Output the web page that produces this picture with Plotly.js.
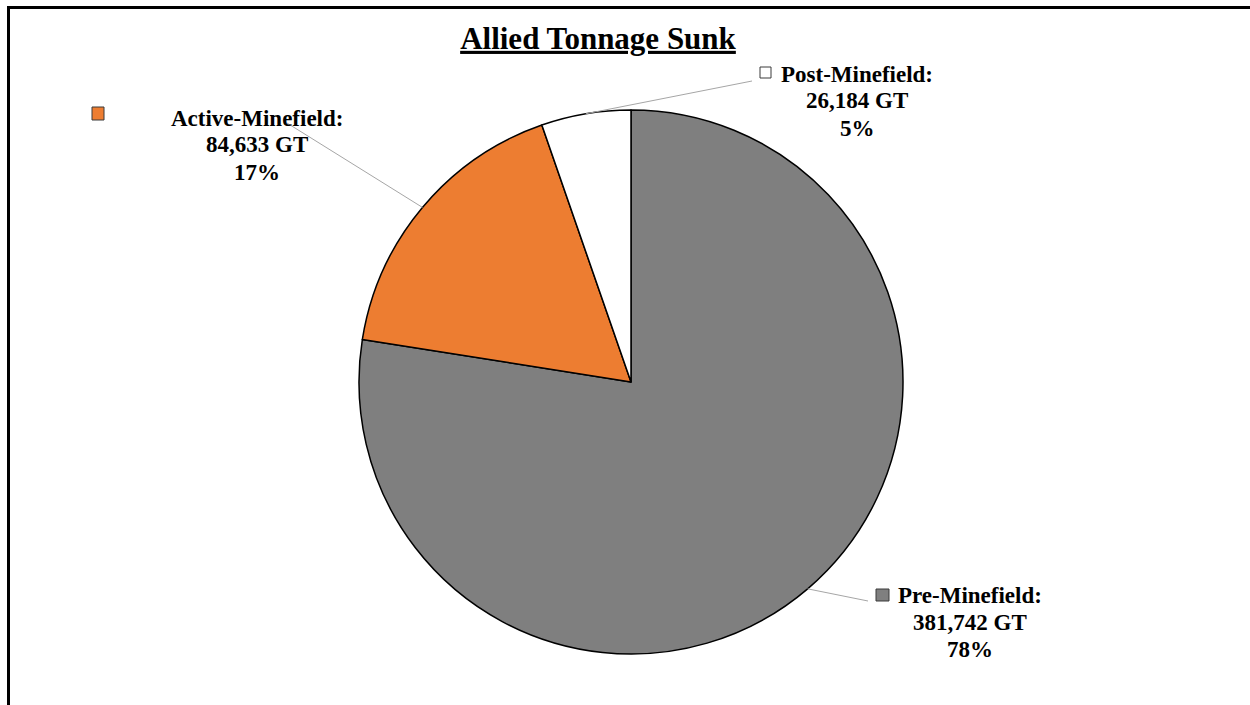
<!DOCTYPE html>
<html>
<head>
<meta charset="utf-8">
<script src="https://cdn.plot.ly/plotly-3.0.1.min.js"></script>
<style>html,body{margin:0;padding:0;background:#fff;}#chart{width:1250px;height:705px;}</style>
</head>
<body>
<div id="chart"></div>
<script>
// ---- data ----
const categories = ['Pre-Minefield', 'Active-Minefield', 'Post-Minefield'];
const tonnage = [381742, 84633, 26184];
const sliceColors = ['#7f7f7f', '#ed7d31', '#ffffff'];
const chartTitle = 'Allied Tonnage Sunk';

// ---- layout constants (pixels) ----
const W = 1250, H = 705;
const pieCx = 631, pieCy = 382, pieR = 272;
// label block centre x and first-line centre y, leader end point, legend square box
const labelCenterX = [970, 257, 857];
const labelTopY = [595, 118, 74];
const leaderEnd = [[868, 601], [287, 123], [752, 81]];
const squareBox = [[876, 589, 889, 601], [92, 107, 104, 120], [760, 67, 771, 78]];
const lineGap = 27;

const px = x => x / W;
const py = y => 1 - y / H;

const total = tonnage.reduce((a, b) => a + b, 0);
const serif = '"Liberation Serif", "Times New Roman", serif';

const annotations = [];
const shapes = [];

let cum = 0;
tonnage.forEach((v, i) => {
  const mid = 2 * Math.PI * (cum + v / 2) / total;
  cum += v;
  const ex = pieCx + pieR * Math.sin(mid);
  const ey = pieCy - pieR * Math.cos(mid);
  shapes.push({type: 'line', xref: 'paper', yref: 'paper',
    x0: px(ex), y0: py(ey), x1: px(leaderEnd[i][0]), y1: py(leaderEnd[i][1]),
    line: {color: '#a6a6a6', width: 1}});
  const b = squareBox[i];
  shapes.push({type: 'rect', xref: 'paper', yref: 'paper',
    x0: px(b[0]), y0: py(b[1]), x1: px(b[2]), y1: py(b[3]),
    fillcolor: sliceColors[i], line: {color: '#3a3a3a', width: 1}});
  const lines = [categories[i] + ':',
                 v.toLocaleString('en-US') + ' GT',
                 Math.round(100 * v / total) + '%'];
  lines.forEach((t, k) => {
    annotations.push({xref: 'paper', yref: 'paper', x: px(labelCenterX[i]), y: py(labelTopY[i] + k * lineGap),
      xanchor: 'center', yanchor: 'middle', showarrow: false,
      text: '<b>' + t + '</b>', font: {family: serif, size: 23, color: '#000'}});
  });
});

// frame lines
shapes.push({type: 'line', xref: 'paper', yref: 'paper', x0: px(7), y0: py(7.5), x1: 1, y1: py(7.5), line: {color: '#000', width: 3}});
shapes.push({type: 'line', xref: 'paper', yref: 'paper', x0: px(8.5), y0: py(6), x1: px(8.5), y1: 0, line: {color: '#000', width: 3}});

const trace = {
  type: 'pie',
  labels: categories,
  values: tonnage,
  sort: false,
  direction: 'clockwise',
  rotation: 0,
  textinfo: 'none',
  hoverinfo: 'label+value+percent',
  marker: {colors: sliceColors, line: {color: '#000', width: 1.5}},
  domain: {x: [px(pieCx - pieR), px(pieCx + pieR)], y: [py(pieCy + pieR), py(pieCy - pieR)]},
  showlegend: false
};

const layout = {
  width: W, height: H,
  margin: {l: 0, r: 0, t: 0, b: 0},
  paper_bgcolor: '#fff',
  showlegend: false,
  title: {text: '<b><u>' + chartTitle + '</u></b>', x: px(598), xref: 'paper', xanchor: 'center',
          y: py(38), yref: 'paper', yanchor: 'middle',
          font: {family: serif, size: 31, color: '#000'}},
  annotations: annotations,
  shapes: shapes
};

Plotly.newPlot('chart', [trace], layout, {displayModeBar: false, staticPlot: true});
</script>
</body>
</html>
